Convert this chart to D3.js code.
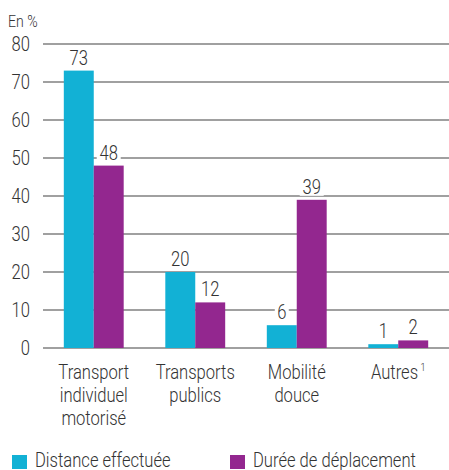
<!DOCTYPE html>
<html>
<head>
<meta charset="utf-8">
<script src="https://cdn.jsdelivr.net/npm/d3@7"></script>
<style>
  body { margin: 0; background: #fff; }
  svg text { font-family: Roboto, "Liberation Sans", sans-serif; font-weight: 300; fill: #333; }
</style>
</head>
<body>
<svg width="449" height="470"></svg>
<script>
var categories = [["Transport", "individuel", "motorisé"], ["Transports", "publics"], ["Mobilité", "douce"], ["Autres"]];
var distance = [73, 20, 6, 1];
var duree = [48, 12, 39, 2];
var series = ["Distance effectuée", "Durée de déplacement"];
var colors = ["#12b1d5", "#93278f"];
var yTicks = [0, 10, 20, 30, 40, 50, 60, 70, 80];

var svg = d3.select("svg"),
    width = +svg.attr("width"),
    height = +svg.attr("height");

var squeeze = 0.83; // font is a condensed one in the original

function place(x, y) { return "translate(" + x + "," + y + ") scale(" + squeeze + ",1)"; }

var x0 = d3.scaleBand()
    .domain(d3.range(categories.length))
    .range([43, 449])
    .paddingInner(0.41)
    .paddingOuter(0.205);

var x1 = d3.scaleBand()
    .domain([0, 1])
    .range([0, x0.bandwidth()]);

var y = d3.scaleLinear()
    .domain([0, 80])
    .range([348, 44]);

// grid
svg.append("g")
  .selectAll("line")
  .data(yTicks)
  .enter().append("line")
    .attr("x1", 43)
    .attr("x2", width)
    .attr("y1", function(d) { return y(d); })
    .attr("y2", function(d) { return y(d); })
    .attr("stroke", "#808080")
    .attr("stroke-width", 1.5);

svg.append("g")
  .selectAll("text")
  .data(yTicks)
  .enter().append("text")
    .attr("transform", function(d) { return place(30, y(d)); })
    .attr("dy", "0.36em")
    .attr("text-anchor", "end")
    .style("font-size", "20px")
    .text(function(d) { return d; });

svg.append("text")
    .attr("transform", place(8, 27))
    .style("font-size", "17px")
    .text("En %");

var rows = categories.map(function(c, i) { return [distance[i], duree[i]]; });

var groups = svg.append("g")
  .selectAll("g")
  .data(rows)
  .enter().append("g")
    .attr("transform", function(d, i) { return "translate(" + x0(i) + ",0)"; });

groups.selectAll("rect")
  .data(function(d) { return d; })
  .enter().append("rect")
    .attr("x", function(d, j) { return x1(j); })
    .attr("y", function(d) { return y(d); })
    .attr("width", x1.bandwidth())
    .attr("height", function(d) { return y(0) - y(d); })
    .attr("fill", function(d, j) { return colors[j]; });

// value labels with white backing
var lab = groups.selectAll("g.lab")
  .data(function(d) { return d; })
  .enter().append("g")
    .attr("class", "lab")
    .attr("transform", function(d, j) { return "translate(" + (x1(j) + x1.bandwidth() / 2) + "," + (y(d) - 6) + ")"; });

lab.append("rect")
    .attr("x", function(d) { return String(d).length > 1 ? -12 : -7; })
    .attr("y", -16)
    .attr("width", function(d) { return String(d).length > 1 ? 24 : 14; })
    .attr("height", 18)
    .attr("fill", "#fff");

lab.append("text")
    .attr("transform", place(0, 0))
    .attr("text-anchor", "middle")
    .style("font-size", "20px")
    .text(function(d) { return d; });

// category labels
var cat = svg.append("g")
  .selectAll("text")
  .data(categories)
  .enter().append("text")
    .attr("transform", function(d, i) { return place(x0(i) + x0.bandwidth() / 2, 379); })
    .attr("text-anchor", "middle")
    .style("font-size", "20px");

cat.selectAll("tspan")
  .data(function(d) { return d; })
  .enter().append("tspan")
    .attr("x", 0)
    .attr("dy", function(d, k) { return k ? 23 : 0; })
    .text(function(d) { return d; });

cat.filter(function(d, i) { return i === 3; })
  .append("tspan")
    .attr("dx", 3)
    .attr("dy", -8)
    .style("font-size", "11px")
    .text("1");

// legend
var legend = svg.append("g")
  .selectAll("g")
  .data(series)
  .enter().append("g")
    .attr("transform", function(d, i) { return "translate(" + (i ? 230 : 12) + ",455)"; });

legend.append("rect")
    .attr("width", 15)
    .attr("height", 14)
    .attr("fill", function(d, i) { return colors[i]; });

legend.append("text")
    .attr("transform", place(23, 12))
    .style("font-size", "20px")
    .text(function(d) { return d; });
</script>
</body>
</html>
